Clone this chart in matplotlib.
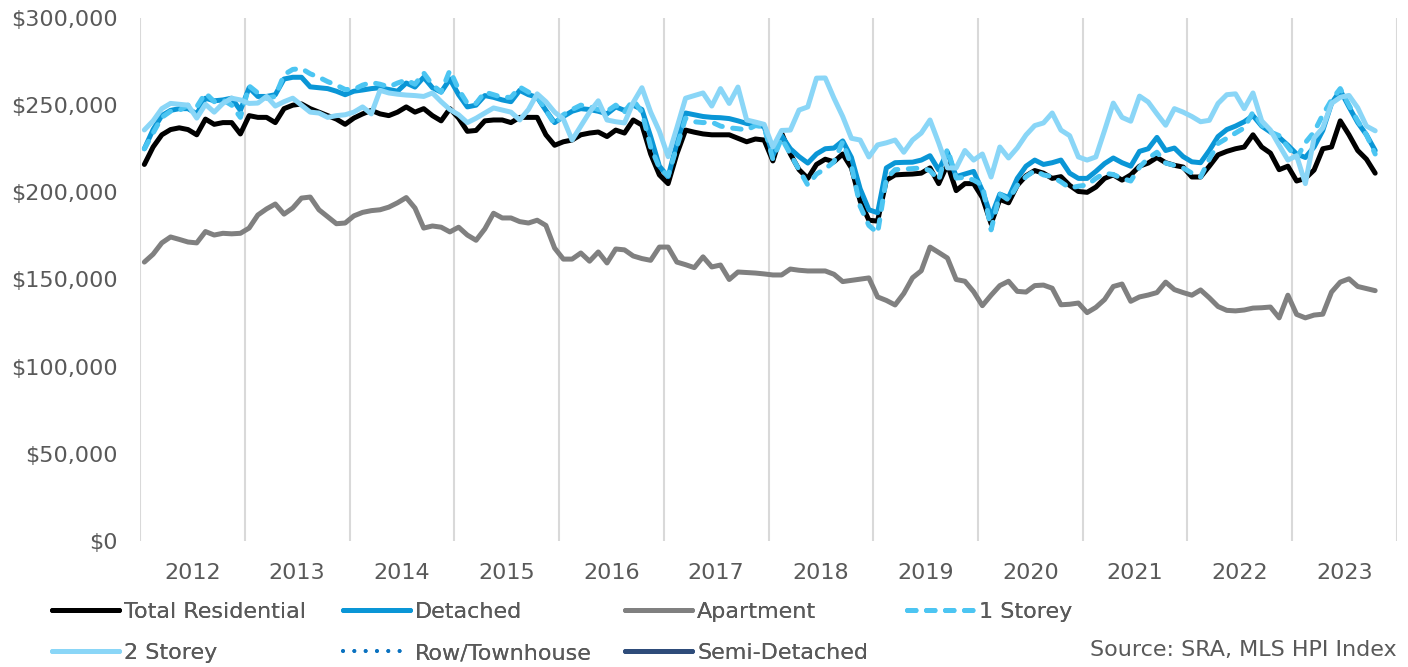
import numpy as np
import matplotlib.pyplot as plt
from matplotlib.ticker import FuncFormatter, FixedLocator

# monthly HPI benchmark prices, Jan 2012 - Oct 2023 (thousands of $)
years = [str(y) for y in range(2012, 2024)]

total_res = [
    216, 226, 233, 236, 237, 236, 233, 242, 239, 240, 240, 233.5,
    244, 243, 243, 240, 248, 250, 250.7, 248, 246, 244, 242, 239,
    242.6, 245, 247, 245, 244, 246, 249, 246, 248, 244, 241, 248,
    242.6, 235, 235.5, 241, 241.5, 241.5, 240, 243, 243, 243, 233, 227,
    229, 230, 233, 234, 234.6, 232, 235.7, 234, 241.5, 238.6, 222, 210,
    205, 222, 235.7, 234.5, 233.5, 233, 233, 233, 231, 229, 230.6, 230,
    218, 234, 222, 213, 208, 216, 219, 217.5, 222, 214, 195, 184,
    183.5, 207, 210, 210.3, 210.5, 211, 214, 205, 216, 201, 205, 205,
    197, 182, 196, 194, 204, 209.5, 212.5, 211, 208, 209, 204, 200.5,
    200, 203, 208, 210, 207, 210, 215, 216.8, 220, 217, 215.5, 214.5,
    208.8, 208.8, 215, 221.5, 223.5, 225, 226, 233, 226, 222.5, 213, 215,
    206.5, 208, 212.8, 225, 226, 241, 233, 224, 219, 211,
]

detached = [
    225, 236, 244, 247, 248, 248, 245, 254, 252.5, 253, 254, 247,
    260, 255, 255, 256, 265, 266, 266, 260.5, 260, 259.5, 258, 256,
    258, 258.7, 259.5, 260, 259, 258, 262.7, 260.4, 266, 260, 257.5, 265,
    256, 249, 250, 255.5, 254.5, 253, 252, 258.5, 256, 254.5, 247, 240,
    243.5, 246.5, 248, 247.5, 246.5, 245, 249, 247, 250, 247.5, 232, 215,
    209, 228, 245.5, 244.5, 243.5, 243, 242.8, 242.3, 241, 239.5, 238.6, 237.8,
    221, 232.5, 225, 220.5, 216.8, 222, 225, 225.4, 229.5, 220, 202, 190,
    188.3, 214, 217, 217.2, 217.3, 218.5, 221, 212.8, 223, 209, 210.5, 212,
    201, 186, 199, 197, 208, 215, 218.5, 216, 217, 218.5, 211, 208,
    208, 212, 216.5, 219.7, 217, 215, 223.5, 225, 231.5, 224, 225.4, 220.5,
    217.5, 217, 224, 232, 236, 238, 240.5, 244, 238, 234.6, 231.5, 227,
    222, 220, 226, 235.5, 251, 258.5, 249, 240, 233, 224,
]

apartment = [
    160, 164.5, 171, 174.4, 173, 171.5, 171, 177.5, 175.5, 176.5, 176.2, 176.5,
    179.5, 187, 190.5, 193.3, 187.5, 191, 196.7, 197.3, 190, 186, 182, 182.4,
    186.5, 188.5, 189.5, 190, 191.5, 194, 197, 191, 179.5, 180.7, 180, 177.3,
    180, 175.5, 172.5, 179, 188, 185.3, 185.3, 183.2, 182.4, 184, 181, 168,
    161.7, 161.7, 165.2, 160.5, 165.8, 159.5, 167.5, 167, 163.5, 162, 161, 168.6,
    168.6, 160, 158.5, 156.8, 163, 157.2, 158.3, 150, 154.3, 154, 153.7, 153.2,
    152.6, 152.6, 156, 155.3, 154.9, 154.9, 154.9, 153, 148.8, 149.5, 150.2, 150.9,
    140, 138, 135.4, 142, 151, 155, 168.6, 165.5, 162.3, 150, 149, 143,
    135, 141, 146.5, 149, 143.2, 142.8, 146.5, 146.8, 145, 135.5, 135.8, 136.5,
    131, 134, 138.5, 146, 147.4, 137.5, 140, 141.1, 142.5, 148.5, 144.2, 142.5,
    141, 144, 139.5, 134.5, 132.3, 132, 132.5, 133.6, 133.8, 134.2, 128, 141,
    130, 128, 129.6, 130.1, 142.8, 148.5, 150.4, 146, 144.8, 143.6,
]

one_storey = [
    225, 234, 243, 246.5, 247, 250, 249, 257, 252, 253, 250, 243,
    261, 257, 254, 255, 267.5, 270.5, 271, 268, 266, 263.5, 261.5, 259,
    259, 261.5, 263, 262, 260.5, 262.7, 264.4, 262, 268.5, 261.6, 257.5, 270,
    259, 251, 251, 257.5, 256, 254.5, 254.5, 260.4, 257.5, 255, 247, 239,
    244.5, 247.5, 250, 249.2, 247.5, 246.5, 250, 246, 253, 246, 226, 214,
    209.5, 226, 242.6, 240.5, 240, 240.3, 238, 237, 236.5, 235.8, 238.3, 237.5,
    219, 231, 222, 213, 204.2, 210.5, 213.5, 217.5, 229, 215, 192, 181,
    176.7, 208, 213, 213.3, 213.6, 214, 212.5, 207, 225, 208.2, 208.6, 207,
    204.2, 178.5, 199, 195.6, 204, 209, 212.5, 210, 209, 206, 202.5, 203.5,
    204.2, 208, 211, 210.2, 208, 206.5, 214.5, 219.5, 223, 216.8, 215.5, 214,
    211, 208.8, 219, 228, 231, 234, 237, 246, 238.5, 234.6, 232.5, 226,
    219.5, 228.5, 234.6, 244.5, 253, 259.5, 250, 241, 233, 222,
]

two_storey = [
    235.8, 241, 248, 251, 250.5, 250, 242.6, 250.5, 246, 251, 254, 253,
    251, 251.2, 255, 249.5, 252, 254, 250, 246, 245.5, 243, 244, 244.5,
    246, 249, 245, 258.5, 257, 256.3, 255.8, 255.5, 255, 257, 252, 247.5,
    244.5, 240, 242.5, 245.5, 248.4, 247.2, 246, 241.5, 247.5, 256.5, 252, 246,
    242, 230, 238, 246, 252.5, 241.5, 240.5, 239.8, 251.5, 260, 246, 235,
    220.5, 237, 254, 255.5, 257, 249.5, 259.5, 251, 260.4, 241.5, 240.3, 239,
    226, 235.5, 235.7, 247.2, 249, 265.5, 265.6, 254, 243.5, 231, 230, 220.3,
    227.2, 228.4, 230, 223, 230, 234, 241.5, 228.3, 214, 214, 224, 218.5,
    222, 208.8, 226, 219.7, 225.5, 232.9, 238.3, 239.8, 245.5, 235.7, 232.5, 220.3,
    218.5, 220.3, 235.5, 251.2, 243, 240.8, 255.2, 251.8, 245, 238.5, 248, 246,
    243.5, 240.5, 241.3, 251, 256, 256.5, 248, 257, 241, 235.7, 227, 218.5,
    221, 205, 231.2, 237, 251, 254.5, 255.6, 248.5, 238, 235.3,
]

# no published values for these two in this market
row_town = []
semi_det = []

series = [
    ("Total Residential", total_res, dict(color="#000000")),
    ("Detached", detached, dict(color="#0A96D6")),
    ("Apartment", apartment, dict(color="#808080")),
    ("1 Storey", one_storey, dict(color="#4CC5F2", dashes=(1.7, 2.1), dash_capstyle="round")),
    ("2 Storey", two_storey, dict(color="#8AD6F7")),
    ("Row/Townhouse", row_town, dict(color="#0A72C0", lw=2.8, dashes=(0.01, 2.9), dash_capstyle="round")),
    ("Semi-Detached", semi_det, dict(color="#2E4C7A")),
]

plt.rcParams['font.family'] = ['DejaVu Sans']
txt = "#595959"

fig = plt.figure(figsize=(14.08, 6.67), dpi=100)
ax = fig.add_axes([140/1408, 1-541/667, 1257/1408, 523/667])

handles = {}
for name, vals, st in series:
    st = dict(st)
    lw = st.pop("lw", 3.6)
    x = np.arange(len(vals))
    y = np.array(vals, dtype=float) * 1000
    ln, = ax.plot(x, y, lw=lw, solid_capstyle="round", solid_joinstyle="round", label=name, **st)
    handles[name] = ln

n_months = 12 * len(years)
ax.set_xlim(-0.5, n_months - 0.5)
ax.set_ylim(0, 300000)

ax.yaxis.set_major_locator(FixedLocator(np.arange(0, 300001, 50000)))
ax.yaxis.set_major_formatter(FuncFormatter(lambda v, p: "${:,.0f}".format(v)))
ax.tick_params(axis="y", length=0, pad=16, labelsize=16, labelcolor=txt)

# year boundaries as gridlines, year names centred in each band
ax.set_xticks(np.arange(-0.5, n_months, 12))
ax.set_xticks(np.arange(5.5, n_months, 12), minor=True)
ax.set_xticklabels([])
ax.set_xticklabels(years, minor=True)
ax.tick_params(axis="x", which="major", length=0)
ax.tick_params(axis="x", which="minor", length=0, pad=15.5, labelsize=16, labelcolor=txt)
ax.grid(axis="x", which="major", color="#D9D9D9", lw=1.5)
ax.set_axisbelow(True)
for s in ax.spines.values():
    s.set_visible(False)

# legend laid out as four columns, two rows
columns = [
    (52, ["Total Residential", "2 Storey"]),
    (343, ["Detached", "Row/Townhouse"]),
    (625, ["Apartment", "Semi-Detached"]),
    (907, ["1 Storey"]),
]
for x0, names in columns:
    leg = fig.legend([handles[k] for k in names], names, loc="upper left",
                     bbox_to_anchor=(x0/1408, 1-602/667), frameon=False, fontsize=16,
                     handlelength=3.0, handletextpad=0.25, labelspacing=0.95,
                     borderpad=0, borderaxespad=0, labelcolor=txt)
    fig.add_artist(leg)

fig.text(1397/1408, 1-650/667, "Source: SRA, MLS HPI Index", ha="right", va="center",
         fontsize=16, color=txt)

fig.savefig("out.png", dpi=100)
